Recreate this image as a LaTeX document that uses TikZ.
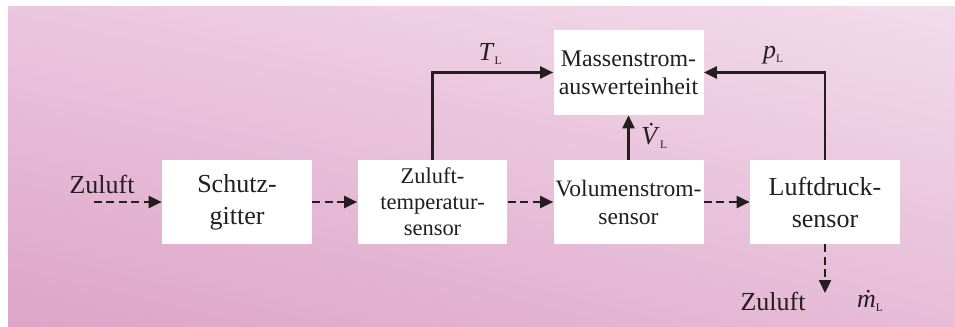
\documentclass[tikz,border=0pt]{standalone}
\usepackage{fontspec}
\setmainfont{Liberation Serif}
\usepackage{xcolor}
\usepackage{tikz}
\usetikzlibrary{arrows.meta, positioning, calc, shadings}

\definecolor{inkgray}{HTML}{231F20}
\definecolor{pinkTL}{HTML}{EBC6DF}
\definecolor{pinkTR}{HTML}{F2DCEA}
\definecolor{pinkBL}{HTML}{DDA4C8}
\definecolor{pinkBR}{HTML}{E7BCD8}

\tikzset{
    block/.style={draw=none, fill=white, text=inkgray, align=center, inner sep=0pt,
        minimum width=3cm, minimum height=1.68cm,
        font=\fontsize{14.8}{18.2}\selectfont},
    flow/.style={draw=inkgray, line width=1.3pt, dash pattern=on 0.16cm off 0.09cm,
        -{Triangle[length=0.26cm, width=0.24cm]}},
    signal/.style={draw=inkgray, line width=1.3pt,
        -{Triangle[length=0.26cm, width=0.24cm]}},
    txt/.style={text=inkgray, inner sep=0pt, font=\fontsize{14.8}{18.2}\selectfont}
}

\newcommand{\idxL}{\raisebox{-0.35ex}{\fontsize{6.5}{7}\selectfont L}}

\begin{document}
\begin{tikzpicture}[x=0.02cm, y=-0.02cm]
    % background
    \useasboundingbox (0,0) rectangle (955,327);
    \fill[white] (0,0) rectangle (955,327);
    \shade[upper left=pinkTL, upper right=pinkTR, lower left=pinkBL, lower right=pinkBR]
        (8,7) rectangle (955,327);

    % blocks
    \node[block] (schutz) at (237,202) {Schutz-\\gitter};
    \node[block, font=\fontsize{12.8}{14.7}\selectfont] (temp) at (432.5,202) {Zuluft-\\temperatur-\\sensor};
    \node[block, font=\fontsize{13.4}{15.9}\selectfont] (vol) at (628.5,202) {Volumenstrom-\\sensor};
    \node[block] (druck) at (825,202) {Luftdruck-\\sensor};
    \node[block, minimum height=1.7cm, font=\fontsize{13.6}{15.9}\selectfont] (massen) at (628.5,72.5) {Massenstrom-\\auswerteinheit};

    % air flow
    \coordinate (zuin) at (94,202);
    \coordinate (zuout) at (825,293);
    \node[txt] (zulabel) at (102,184) {Zuluft};
    \draw[flow] (zuin) -- (schutz);
    \draw[flow] (schutz) -- (temp);
    \draw[flow] (temp) -- (vol);
    \draw[flow] (vol) -- (druck);
    \draw[flow] (druck) -- (zuout);
    \node[txt] (zuoutlabel) at (773,301) {Zuluft};
    \node[txt] (mdot) at (870,301) {\textit{\.m}\idxL};

    % signals
    \draw[signal] (temp.north) |- (massen.west);
    \draw[signal] (druck.north) |- (massen.east);
    \draw[signal] (vol.north) -- (massen.south);
    \node[txt] (tl) at (490,54) {\textit{T}\idxL};
    \node[txt] (pl) at (773,55) {\textit{p}\idxL};
    \node[txt, anchor=west] (vl) at (641,136) {\textit{\.V}\kern-2.5pt\idxL};
\end{tikzpicture}
\end{document}
